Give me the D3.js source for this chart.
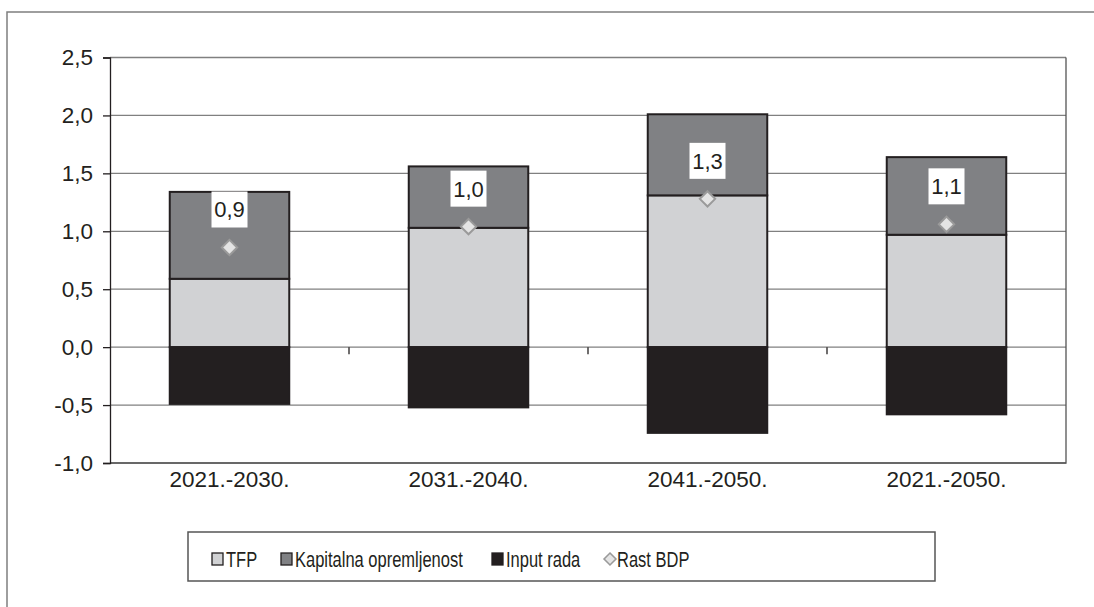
<!DOCTYPE html>
<html>
<head>
<meta charset="utf-8">
<script src="https://cdn.jsdelivr.net/npm/d3@7/dist/d3.min.js"></script>
<style>
  html, body { margin: 0; background: #fff; overflow: hidden; }
  svg { display: block; }
  text { font-family: "Liberation Sans", Arial, sans-serif; fill: #231f20; }
</style>
</head>
<body>
<svg id="chart"></svg>
<script>
// values
const periods = ["2021.-2030.", "2031.-2040.", "2041.-2050.", "2021.-2050."];
const tfp = [0.59, 1.03, 1.31, 0.97];
const kapital = [0.75, 0.53, 0.70, 0.67];
const inputRada = [-0.49, -0.52, -0.74, -0.58];
const rastBdp = [0.86, 1.04, 1.28, 1.06];
const yTicks = [-1, -0.5, 0, 0.5, 1, 1.5, 2, 2.5];
const seriesNames = ["TFP", "Kapitalna opremljenost", "Input rada", "Rast BDP"];

const width = 1094;
const height = 607;
const plot = { left: 110, right: 1066, top: 57.5, bottom: 463 };

const colors = { tfp: "#d1d2d4", kap: "#808184", input: "#231f20" };
// comma decimals, plain hyphen for minus
const fmt = (v) => d3.format(".1f")(v).replace(".", ",").replace("\u2212", "-");

const svg = d3.select("#chart").attr("width", width).attr("height", height);

// outer chart frame: only left and top edges are inside the picture
svg.append("path")
  .attr("d", `M7,${height}V12H${width}`)
  .attr("fill", "none").attr("stroke", "#7f7f7f").attr("stroke-width", 1.5);

const x = d3.scaleBand()
  .domain(periods)
  .range([plot.left, plot.right])
  .paddingInner(0.5)
  .paddingOuter(0.25);

const xCat = d3.scaleBand().domain(periods).range([plot.left, plot.right]).padding(0);

const y = d3.scaleLinear().domain([-1, 2.5]).range([plot.bottom, plot.top]);

// gridlines
svg.append("g")
  .selectAll("line")
  .data(yTicks)
  .join("line")
  .attr("x1", plot.left).attr("x2", plot.right)
  .attr("y1", (d) => y(d)).attr("y2", (d) => y(d))
  .attr("stroke", "#808080").attr("stroke-width", 1.3);

// plot area border right/bottom
svg.append("path")
  .attr("d", `M${plot.right},${plot.top}V${plot.bottom}H${plot.left}`)
  .attr("fill", "none").attr("stroke", "#555").attr("stroke-width", 1.3);

// y axis
const yAxis = svg.append("g")
  .attr("transform", `translate(${plot.left},0)`)
  .call(d3.axisLeft(y).tickValues(yTicks).tickSize(7).tickPadding(10).tickFormat(fmt));
yAxis.select(".domain").attr("stroke", "#231f20").attr("stroke-width", 1.3);
yAxis.selectAll(".tick line").attr("stroke", "#231f20").attr("stroke-width", 1.3);
yAxis.selectAll(".tick text")
  .style("font-family", '"Liberation Sans", Arial, sans-serif')
  .style("font-size", "22.5px")
  .attr("fill", "#231f20");

// stacked bars
const table = periods.map((p, i) => ({ period: p, tfp: tfp[i], kap: kapital[i], input: inputRada[i] }));
const stack = d3.stack().keys(["tfp", "kap", "input"]).offset(d3.stackOffsetDiverging);
const layers = stack(table);

svg.append("g")
  .selectAll("g")
  .data(layers)
  .join("g")
  .attr("fill", (d) => colors[d.key])
  .selectAll("rect")
  .data((d) => d)
  .join("rect")
  .attr("x", (d) => x(d.data.period))
  .attr("width", x.bandwidth())
  .attr("y", (d) => y(Math.max(d[0], d[1])))
  .attr("height", (d) => Math.abs(y(d[0]) - y(d[1])))
  .attr("stroke", "#231f20")
  .attr("stroke-width", 2);

// category axis ticks at zero line
svg.append("g")
  .selectAll("line")
  .data(periods.slice(1))
  .join("line")
  .attr("x1", (d) => xCat(d)).attr("x2", (d) => xCat(d))
  .attr("y1", y(0)).attr("y2", y(0) + 7)
  .attr("stroke", "#231f20").attr("stroke-width", 1.3);

// x labels
svg.append("g")
  .selectAll("text")
  .data(periods)
  .join("text")
  .attr("x", (d) => x(d) + x.bandwidth() / 2)
  .attr("y", plot.bottom + 24)
  .attr("text-anchor", "middle")
  .style("font-size", "22.5px")
  .text((d) => d);

// GDP growth markers
const diamond = d3.symbol().type(d3.symbolDiamond2).size(150);
const cx = (i) => x(periods[i]) + x.bandwidth() / 2;

svg.append("g")
  .selectAll("path")
  .data(rastBdp)
  .join("path")
  .attr("transform", (d, i) => `translate(${cx(i)},${y(d)})`)
  .attr("d", diamond)
  .attr("fill", "#e4e4e4")
  .attr("stroke", "#9a9a9a")
  .attr("stroke-width", 2);

// data labels with white box
const labels = svg.append("g")
  .selectAll("g")
  .data(rastBdp)
  .join("g")
  .attr("transform", (d, i) => `translate(${cx(i)},${y(d) - 38})`);
labels.append("rect")
  .attr("x", -18).attr("y", -18).attr("width", 36).attr("height", 36)
  .attr("fill", "#fff");
labels.append("text")
  .attr("text-anchor", "middle")
  .attr("dy", "0.36em")
  .style("font-size", "22px")
  .text((d) => fmt(d));

// legend
const legend = svg.append("g");
legend.append("rect")
  .attr("x", 188).attr("y", 532)
  .attr("width", 747).attr("height", 49)
  .attr("fill", "#fff").attr("stroke", "#555").attr("stroke-width", 1.5);

const legendItems = [
  { x: 212, fill: colors.tfp, name: seriesNames[0] },
  { x: 281, fill: colors.kap, name: seriesNames[1] },
  { x: 492, fill: colors.input, name: seriesNames[2] },
  { x: 604, fill: null, name: seriesNames[3] },
];

const item = legend.selectAll("g.item")
  .data(legendItems)
  .join("g")
  .attr("class", "item")
  .attr("transform", (d) => `translate(${d.x},559)`);

item.filter((d) => d.fill)
  .append("rect")
  .attr("x", 0).attr("y", -6).attr("width", 11).attr("height", 12)
  .attr("fill", (d) => d.fill)
  .attr("stroke", "#231f20").attr("stroke-width", 1.3);

item.filter((d) => !d.fill)
  .append("path")
  .attr("transform", "translate(6,0)")
  .attr("d", d3.symbol().type(d3.symbolDiamond2).size(90))
  .attr("fill", "#e4e4e4")
  .attr("stroke", "#9a9a9a")
  .attr("stroke-width", 1.6);

item.append("text")
  .attr("transform", (d) => `translate(${d.fill ? 14 : 13},0) scale(0.75,1)`)
  .attr("dy", "0.36em")
  .style("font-size", "22px")
  .text((d) => d.name);
</script>
</body>
</html>
